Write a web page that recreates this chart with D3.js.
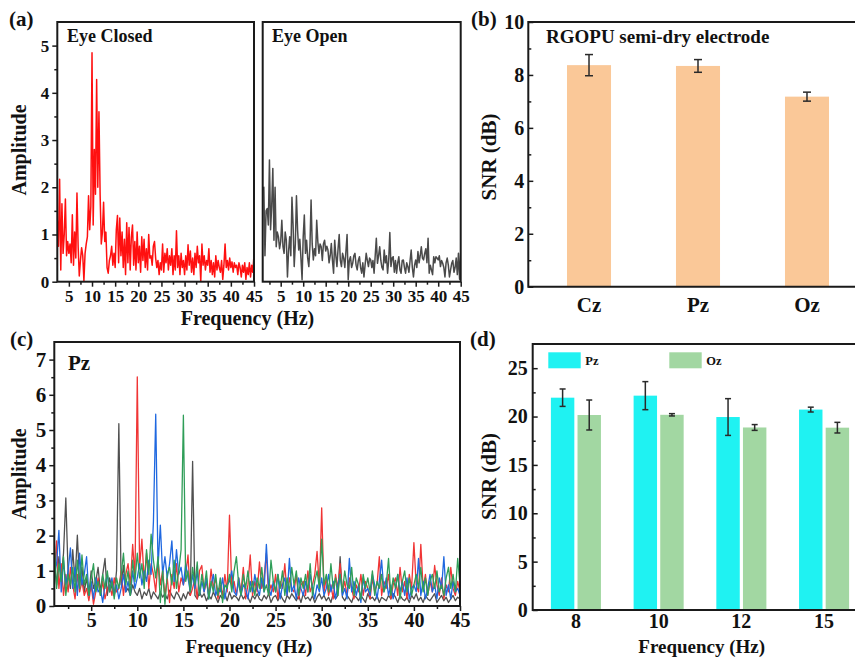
<!DOCTYPE html>
<html><head><meta charset="utf-8">
<script src="https://cdn.jsdelivr.net/npm/d3@7"></script>
<style>
body{margin:0;background:#fff}
svg{display:block}
text{font-family:"Liberation Serif","Times New Roman",serif;font-weight:bold;fill:#111}
</style></head>
<body><svg id="fig" width="855" height="659"></svg>
<script>
// ---------- data ----------
// (a) resting-state spectra, 0.25 Hz bins
const eyeClosedStart = 2.5;
const eyeClosed = [
 1.30,0.75,2.17,0.25,1.65,0.60,1.00,1.75,0.55,0.85,
 0.60,0.80,0.40,1.42,0.35,1.05,0.50,1.88,0.75,0.12,
 0.45,0.72,0.55,0.02,0.60,0.80,0.95,1.82,1.10,1.60,
 4.85,1.20,2.80,1.85,4.28,2.00,3.60,1.85,0.80,1.05,
 1.68,0.85,1.05,0.30,0.18,0.45,0.55,0.75,0.35,0.60,
 0.30,1.10,1.40,0.40,1.35,0.55,1.05,0.30,0.90,0.15,
 1.25,0.40,1.15,0.25,0.95,1.20,0.35,0.85,0.25,1.05,
 0.40,0.75,0.20,0.95,0.45,0.90,0.30,0.70,0.25,1.00,
 0.50,0.55,0.35,0.75,0.85,0.50,0.30,0.45,0.15,0.40,
 0.25,0.80,0.20,0.60,0.40,0.70,0.25,0.55,0.35,0.70,
 0.15,0.55,0.25,1.08,0.30,0.55,0.15,0.60,0.30,0.45,
 0.15,0.55,0.25,0.78,0.35,0.65,0.20,0.50,0.15,0.60,
 0.30,0.75,0.40,0.55,0.00,0.80,0.35,0.55,0.25,0.45,
 0.35,0.70,0.20,0.45,0.15,0.40,0.10,0.55,0.25,0.45,
 0.30,0.20,0.45,0.05,0.35,0.80,0.30,0.45,0.25,0.50,
 0.30,0.42,0.20,0.40,0.30,0.35,0.15,0.40,0.30,0.10,
 0.35,0.20,0.40,0.05,0.30,0.15,0.40,0.10,0.35,0.20,
 0.58];
const eyeOpenStart = 1;
const eyeOpen = [
 1.95,2.00,0.55,1.50,1.55,1.20,2.58,1.10,1.60,2.40,
 0.88,2.00,0.74,1.05,0.95,0.70,0.85,1.30,0.75,0.60,
 1.05,0.88,0.10,0.65,0.95,0.55,1.79,1.20,0.32,0.80,
 1.82,1.10,0.67,0.90,0.50,0.04,0.95,1.41,0.60,0.88,
 0.50,0.32,0.75,1.73,0.80,0.46,0.70,0.55,1.30,0.85,
 0.60,0.80,0.74,0.45,0.80,0.88,0.65,0.75,0.67,0.40,
 0.55,0.81,0.45,0.18,0.88,0.55,0.32,0.70,1.00,0.45,
 0.32,0.60,0.50,0.30,0.65,1.00,0.04,0.45,0.53,0.30,
 0.39,0.55,0.60,0.35,0.25,0.45,0.53,0.30,0.18,0.40,
 0.10,0.35,0.60,0.45,0.32,0.50,0.46,0.30,0.45,0.18,
 0.55,0.92,0.39,0.55,0.74,0.45,0.30,0.25,0.67,0.40,
 0.55,0.18,0.45,1.04,0.32,0.50,0.53,0.20,0.45,0.18,
 0.40,0.53,0.25,0.18,0.45,0.46,0.30,0.18,0.40,0.32,
 0.20,0.45,0.67,0.30,0.10,0.35,0.46,0.30,0.64,0.40,
 0.55,0.74,0.50,0.46,0.60,0.70,0.40,0.92,0.18,0.35,
 0.25,0.15,0.53,0.40,0.53,0.50,0.46,0.55,0.32,0.45,
 0.39,0.30,0.10,0.40,0.50,0.35,0.10,0.25,0.39,0.45,
 0.20,0.30,0.50,0.15,0.60,0.05,0.60];
const binStep = 0.25;

// (c) SSVEP spectra at Pz, 1-45 Hz, 0.25 Hz bins (one row per Hz)
const ssvepStart = 1;
const ssvep8 = [
 1.2,0.6,1.4,0.8, 1.5,3.07,0.9,0.5, 1.6,0.7,2.01,0.6, 1.1,0.4,0.8,0.3,
 1.0,0.5,0.7,1.1, 0.4,0.9,1.35,0.3, 0.8,0.5,0.3,1.0, 5.18,0.6,1.15,0.4,
 0.5,0.3,0.6,0.4, 0.3,0.5,0.2,0.4, 0.3,0.5,0.2,0.4, 0.3,0.2,0.4,0.25,
 0.35,0.2,0.45,0.3, 0.2,0.4,0.3,0.15, 0.35,0.2,0.4,0.3, 4.11,0.3,0.2,0.4,
 0.25,0.35,0.15,0.3, 0.2,0.4,0.25,0.1, 0.3,0.2,0.35,0.15, 0.4,0.2,0.3,0.25,
 0.15,0.35,0.2,0.3, 0.25,0.1,0.3,0.2, 0.35,0.2,0.15,0.3, 0.2,0.35,0.1,0.25,
 0.3,0.15,0.35,0.2, 0.1,0.3,0.2,0.35, 0.25,0.15,0.3,0.1, 0.35,0.2,0.25,0.15,
 0.3,0.1,0.25,0.35, 0.2,0.3,0.15,0.25, 0.1,0.35,0.2,0.3, 1.4,0.25,0.15,0.3,
 0.2,0.1,0.3,0.25, 0.15,0.3,0.2,0.1, 0.35,0.2,0.25,0.15, 0.3,0.1,0.25,0.2,
 0.15,0.3,0.2,0.35, 0.25,0.1,0.3,0.2, 0.15,0.25,0.1,0.3, 0.2,0.35,0.15,0.25,
 0.1,0.3,0.2,0.15, 0.25,0.35,0.1,0.2, 0.3,0.15,0.25,0.1, 0.2,0.3,0.15,0.25,
 0.2];
const ssvep10 = [
 0.8,1.85,0.5,1.2, 0.3,0.9,0.4,1.1, 0.6,0.2,0.9,0.4, 0.7,0.3,0.5,0.15,
 0.6,0.05,0.4,0.8, 0.3,0.7,0.2,0.5, 0.6,0.3,0.8,0.4, 0.5,1.0,0.3,0.9,
 1.2,0.6,1.75,0.8, 6.51,1.1,1.9,0.7, 1.5,0.5,1.2,0.9, 0.4,1.3,0.6,1.0,
 0.3,0.8,0.1,0.9, 0.5,1.2,0.4,0.8, 0.6,0.9,1.45,0.3, 0.5,0.8,0.2,1.0,
 1.15,0.4,0.7,0.3, 1.05,0.5,0.8,0.2, 0.6,0.3,0.9,0.4, 2.58,0.5,0.7,0.3,
 0.8,0.4,1.1,0.2, 0.6,1.45,0.3,0.7, 0.4,1.25,0.5,0.8, 1.5,0.3,0.6,0.4,
 0.9,0.2,0.7,0.5, 1.2,0.3,0.8,0.5, 0.4,0.9,0.2,0.6, 0.7,0.3,1.0,0.4,
 0.6,0.9,1.55,0.5, 2.79,0.4,0.8,0.3, 0.6,0.2,0.9,0.5, 1.2,0.4,0.7,0.3,
 0.8,0.5,0.2,0.6, 0.4,0.9,0.3,0.7, 0.5,0.2,0.8,0.4, 0.6,1.4,0.3,0.7,
 0.5,0.9,0.2,0.6, 0.8,0.3,1.1,0.4, 0.7,0.2,0.9,0.5, 1.8,0.6,0.4,1.75,
 0.5,0.9,0.3,0.7, 0.4,1.15,0.6,0.3, 0.8,0.2,0.6,0.4, 1.1,0.5,0.3,0.7,
 0.4];
const ssvep12 = [
 0.9,1.2,2.15,0.4, 1.3,0.6,1.0,1.65, 0.5,1.1,0.3,1.5, 0.6,0.9,1.4,0.3,
 0.7,0.2,0.8,0.4, 0.5,0.1,0.6,0.9, 0.4,0.8,0.3,0.6, 0.2,0.5,0.9,0.4,
 0.7,0.3,1.0,0.5, 0.8,1.2,0.6,1.0, 0.7,1.3,0.9,2.39, 5.45,1.1,2.3,0.9,
 1.4,0.8,1.2,1.85, 0.7,1.6,0.9,1.1, 0.6,1.2,0.8,0.4, 0.9,0.5,1.0,0.3,
 0.7,0.4,0.8,0.2, 0.6,0.9,0.3,0.5, 0.4,0.8,0.2,0.6, 0.7,1.0,0.4,0.3,
 0.8,0.3,0.6,0.5, 0.2,0.7,0.4,0.9, 0.5,0.3,0.8,0.4, 1.75,0.5,0.3,0.7,
 0.4,0.9,0.2,0.6, 0.8,0.3,1.35,0.4, 0.6,0.2,0.8,0.5, 0.3,0.7,0.4,0.9,
 0.5,0.2,0.6,0.4, 0.8,0.3,0.5,0.9, 0.4,0.7,0.2,0.6, 0.9,0.3,0.5,0.2,
 1.35,0.4,0.7,0.3, 0.6,0.1,0.8,0.4, 0.5,0.3,0.9,0.6, 0.2,0.7,1.3,0.4,
 0.8,0.3,0.6,0.2, 0.5,0.9,0.4,0.7, 0.3,0.8,0.2,0.5, 0.6,0.4,1.35,0.3,
 0.7,0.2,0.5,0.9, 0.4,0.6,0.2,0.8, 0.5,1.4,0.3,0.6, 0.2,0.7,0.4,0.5,
 0.3];
const ssvep15 = [
 1.8,0.5,1.2,0.7, 1.4,0.3,0.9,0.6, 1.1,0.4,1.3,0.5, 1.45,0.6,0.9,0.3,
 0.8,1.2,0.4,0.7, 0.3,0.9,0.5,1.0, 0.4,0.7,0.2,0.8, 0.5,0.9,1.5,0.6,
 1.0,0.3,1.3,0.7, 1.5,0.8,1.2,0.5, 1.6,0.9,2.04,1.3, 0.8,1.4,0.1,1.0,
 0.05,0.9,1.1,0.6, 1.3,0.5,1.0,1.6, 5.42,0.7,1.0,0.4, 1.1,0.6,1.25,0.3,
 0.9,0.5,1.0,0.2, 0.7,0.4,0.9,0.3, 0.8,0.1,0.6,0.5, 0.9,0.4,1.0,1.4,
 0.6,0.3,0.9,0.5, 1.0,0.4,0.7,0.3, 0.8,0.5,1.1,0.4, 0.6,0.3,1.3,0.7,
 0.4,0.9,0.5,1.0, 0.3,0.8,0.4,1.1, 0.6,1.0,0.3,0.8, 0.5,0.9,0.4,1.2,
 0.3,0.7,1.0,0.5, 1.9,0.6,0.9,0.4, 1.2,0.5,0.8,0.3, 0.9,0.4,1.0,0.6,
 0.5,1.1,0.3,0.8, 0.6,0.2,0.9,0.5, 0.8,0.4,1.0,0.3, 0.7,0.5,0.9,0.4,
 0.6,1.35,0.3,0.8, 0.5,0.9,0.2,0.7, 1.0,0.4,0.8,0.3, 0.6,0.9,0.5,1.1,
 0.4,0.8,0.3,0.7, 0.9,0.5,1.0,0.4, 0.6,0.3,0.8,1.1, 0.5,0.9,0.4,1.35,
 0.6];

// (b) SNR per electrode
const electrodes = ["Cz","Pz","Oz"];
const snrElectrode = [8.37, 8.34, 7.18];
const snrElectrodeErr = [0.40, 0.24, 0.17];

// (d) SSVEP SNR per stimulus frequency
const stimFreqs = ["8","10","12","15"];
const channels = ["Pz","Oz"];
const snrPz = [21.95, 22.16, 19.95, 20.72];
const snrPzErr = [0.90, 1.45, 1.90, 0.25];
const snrOz = [20.16, 20.18, 18.87, 18.85];
const snrOzErr = [1.55, 0.12, 0.30, 0.55];

// tick values
const freqTicks = [5,10,15,20,25,30,35,40,45];
const ampTicksA = [0,1,2,3,4,5];
const ampTicksC = [0,1,2,3,4,5,6,7];
const snrTicksB = [0,2,4,6,8,10];
const snrTicksD = [0,5,10,15,20,25];

// ---------- drawing ----------
const svg = d3.select("#fig");
const INK = "#1a1a1a";

function styleAxis(g, fs) {
  g.select(".domain").remove();
  g.selectAll("line").attr("stroke", INK).attr("stroke-width", 1.5);
  g.selectAll("text").attr("font-size", fs).attr("font-weight", "bold").attr("fill", "#111");
  return g;
}
function addAxis(gen, tx, ty, fs) {
  return styleAxis(svg.append("g").attr("transform", `translate(${tx},${ty})`).call(gen), fs);
}
function minorBetween(ticks) {
  const m = [];
  for (let i = 0; i < ticks.length - 1; i++) m.push((ticks[i] + ticks[i + 1]) / 2);
  return m;
}
function boxFrame(x0, y0, x1, y1) {
  svg.append("rect").attr("x", x0).attr("y", y0).attr("width", x1 - x0).attr("height", y1 - y0)
    .attr("fill", "none").attr("stroke", INK).attr("stroke-width", 2);
}
function label(txt, x, y, fs, anchor, rot) {
  const t = svg.append("text").attr("font-size", fs).attr("text-anchor", anchor || "start").text(txt);
  if (rot) t.attr("transform", `translate(${x},${y}) rotate(-90)`);
  else t.attr("x", x).attr("y", y);
  return t;
}
function spectrum(vals, start, x, y, color, width, clipId) {
  const pts = vals.map((v, i) => [start + i * binStep, v]);
  svg.append("path").datum(pts)
    .attr("clip-path", `url(#${clipId})`)
    .attr("fill", "none").attr("stroke", color).attr("stroke-width", width)
    .attr("stroke-linejoin", "round")
    .attr("d", d3.line().x(d => x(d[0])).y(d => y(d[1])));
}
const defs = svg.append("defs");
function clip(id, x0, y0, x1, y1) {
  defs.append("clipPath").attr("id", id).append("rect")
    .attr("x", x0).attr("y", y0).attr("width", x1 - x0).attr("height", y1 - y0);
}

// ----- (a) Eye Closed / Eye Open -----
const aTop = 22, aBot = 281.7;
const yA = d3.scaleLinear().domain([0, 5.5]).range([aBot, aTop]);
const xA1 = d3.scaleLinear().domain([eyeClosedStart, 45]).range([57.3, 254]);
const xA2 = d3.scaleLinear().domain([eyeOpenStart, 45]).range([262.7, 460.7]);
clip("clipA1", 57.3, aTop, 254, aBot);
clip("clipA2", 262.7, aTop, 460.7, aBot);
spectrum(eyeClosed, eyeClosedStart, xA1, yA, "#ff1010", 1.5, "clipA1");
spectrum(eyeOpen, eyeOpenStart, xA2, yA, "#4a4a4a", 1.5, "clipA2");
boxFrame(57.3, aTop, 254, aBot);
boxFrame(262.7, aTop, 460.7, aBot);

const minorFreq = [2.5, 7.5, 12.5, 17.5, 22.5, 27.5, 32.5, 37.5, 42.5];
addAxis(d3.axisLeft(yA).tickValues(ampTicksA).tickSize(5).tickPadding(3).tickFormat(d3.format("d")), 57.3, 0, 17);
addAxis(d3.axisLeft(yA).tickValues(minorBetween(ampTicksA)).tickSize(3).tickFormat(""), 57.3, 0, 17);
addAxis(d3.axisBottom(xA1).tickValues(freqTicks).tickSize(5).tickPadding(3).tickFormat(d3.format("d")), 0, aBot, 17);
addAxis(d3.axisBottom(xA1).tickValues(minorFreq.filter(v => v > eyeClosedStart)).tickSize(3).tickFormat(""), 0, aBot, 17);
addAxis(d3.axisBottom(xA2).tickValues(freqTicks).tickSize(5).tickPadding(3).tickFormat(d3.format("d")), 0, aBot, 17);
addAxis(d3.axisBottom(xA2).tickValues(minorFreq).tickSize(3).tickFormat(""), 0, aBot, 17);

label("(a)", 9, 26, 21);
label("Eye Closed", 67, 42, 18);
label("Eye Open", 272, 42, 18);
label("Amplitude", 26, 150, 20, "middle", true);
label("Frequency (Hz)", 247.5, 325, 20, "middle");

// ----- (b) SNR per electrode -----
const bTop = 22, bBot = 286.7, bLeft = 528.3, bRight = 867.7;
const yB = d3.scaleLinear().domain([0, 10]).range([bBot, bTop]);
const xB = d3.scaleBand().domain(electrodes).range([bLeft, bRight]).paddingInner(0.596).paddingOuter(0.355);
svg.append("g").selectAll("rect").data(electrodes).join("rect")
  .attr("x", d => xB(d)).attr("width", xB.bandwidth())
  .attr("y", (d, i) => yB(snrElectrode[i])).attr("height", (d, i) => yB(0) - yB(snrElectrode[i]))
  .attr("fill", "#fac898");
function errBar(cx, y, v, e, cap) {
  const g = svg.append("g").attr("stroke", "#2a2a2a").attr("stroke-width", 1.5);
  g.append("line").attr("x1", cx).attr("x2", cx).attr("y1", y(v - e)).attr("y2", y(v + e));
  g.append("line").attr("x1", cx - cap / 2).attr("x2", cx + cap / 2).attr("y1", y(v - e)).attr("y2", y(v - e));
  g.append("line").attr("x1", cx - cap / 2).attr("x2", cx + cap / 2).attr("y1", y(v + e)).attr("y2", y(v + e));
}
electrodes.forEach((d, i) => errBar(xB(d) + xB.bandwidth() / 2, yB, snrElectrode[i], snrElectrodeErr[i], 8));
svg.append("path").attr("fill", "none").attr("stroke", INK).attr("stroke-width", 2)
  .attr("d", `M${bRight},${bTop}H${bLeft}V${bBot}H${bRight}`);
addAxis(d3.axisLeft(yB).tickValues(snrTicksB).tickSize(-5).tickPadding(4).tickFormat(d3.format("d")), bLeft, 0, 20);
addAxis(d3.axisLeft(yB).tickValues(minorBetween(snrTicksB)).tickSize(-3).tickFormat(""), bLeft, 0, 20);
addAxis(d3.axisBottom(xB).tickSize(0).tickPadding(10), 0, bBot, 21);
label("(b)", 471, 26, 21);
label("RGOPU semi-dry electrode", 546, 43, 19);
label("SNR (dB)", 496, 157, 21, "middle", true);

// ----- (c) SSVEP spectra -----
const cTop = 342, cBot = 606, cLeft = 54.3, cRight = 460;
const yC = d3.scaleLinear().domain([0, 7.5]).range([cBot, cTop]);
const xC = d3.scaleLinear().domain([ssvepStart, 45]).range([cLeft, cRight]);
clip("clipC", cLeft, cTop, cRight, cBot);
spectrum(ssvep8, ssvepStart, xC, yC, "#505050", 1.3, "clipC");
spectrum(ssvep10, ssvepStart, xC, yC, "#f03535", 1.3, "clipC");
spectrum(ssvep12, ssvepStart, xC, yC, "#1f68e0", 1.3, "clipC");
spectrum(ssvep15, ssvepStart, xC, yC, "#2f9e58", 1.3, "clipC");
boxFrame(cLeft, cTop, cRight, cBot);
addAxis(d3.axisLeft(yC).tickValues(ampTicksC).tickSize(5).tickPadding(3).tickFormat(d3.format("d")), cLeft, 0, 21);
addAxis(d3.axisLeft(yC).tickValues(minorBetween(ampTicksC)).tickSize(3).tickFormat(""), cLeft, 0, 21);
addAxis(d3.axisBottom(xC).tickValues(freqTicks).tickSize(5).tickPadding(2).tickFormat(d3.format("d")), 0, cBot, 20);
addAxis(d3.axisBottom(xC).tickValues(minorFreq).tickSize(3).tickFormat(""), 0, cBot, 20);
label("(c)", 10, 346, 21);
label("Pz", 68, 370, 21);
label("Amplitude", 26, 474, 20, "middle", true);
label("Frequency (Hz)", 249, 653, 19, "middle");

// ----- (d) SNR per stimulus frequency -----
const dTop = 344, dBot = 610, dLeft = 532.7, dRight = 867.3;
const yD = d3.scaleLinear().domain([0, 27.5]).range([dBot, dTop]);
const xD = d3.scaleBand().domain(stimFreqs).range([dLeft, dRight]).paddingInner(0.395).paddingOuter(0.22);
const xSub = d3.scaleBand().domain(channels).range([0, xD.bandwidth()]).paddingInner(0.12);
const chanColor = {Pz: "#1ff2f2", Oz: "#a2d7a2"};
const chanVals = {Pz: snrPz, Oz: snrOz};
const chanErr = {Pz: snrPzErr, Oz: snrOzErr};
channels.forEach(ch => {
  svg.append("g").selectAll("rect").data(stimFreqs).join("rect")
    .attr("x", d => xD(d) + xSub(ch)).attr("width", xSub.bandwidth())
    .attr("y", (d, i) => yD(chanVals[ch][i])).attr("height", (d, i) => yD(0) - yD(chanVals[ch][i]))
    .attr("fill", chanColor[ch]);
});
channels.forEach(ch => stimFreqs.forEach((d, i) =>
  errBar(xD(d) + xSub(ch) + xSub.bandwidth() / 2, yD, chanVals[ch][i], chanErr[ch][i], 6)));
svg.append("path").attr("fill", "none").attr("stroke", INK).attr("stroke-width", 2)
  .attr("d", `M${dRight},${dTop}H${dLeft}V${dBot}H${dRight}`);
addAxis(d3.axisLeft(yD).tickValues(snrTicksD).tickSize(-5).tickPadding(5).tickFormat(d3.format("d")), dLeft, 0, 20);
addAxis(d3.axisLeft(yD).tickValues(minorBetween(snrTicksD)).tickSize(-3).tickFormat(""), dLeft, 0, 20);
addAxis(d3.axisBottom(xD).tickSize(0).tickPadding(4), 0, dBot, 20);
// legend
const legX = [548.3, 669.3];
channels.forEach((ch, i) => {
  svg.append("rect").attr("x", legX[i]).attr("y", 352.3).attr("width", 32.4).attr("height", 16).attr("fill", chanColor[ch]);
  label(ch, legX[i] + 37, 365, 12.5);
});
label("(d)", 470, 346, 21);
label("SNR (dB)", 496, 476.5, 21, "middle", true);
label("Frequency (Hz)", 701.7, 653, 19, "middle");
</script></body></html>
